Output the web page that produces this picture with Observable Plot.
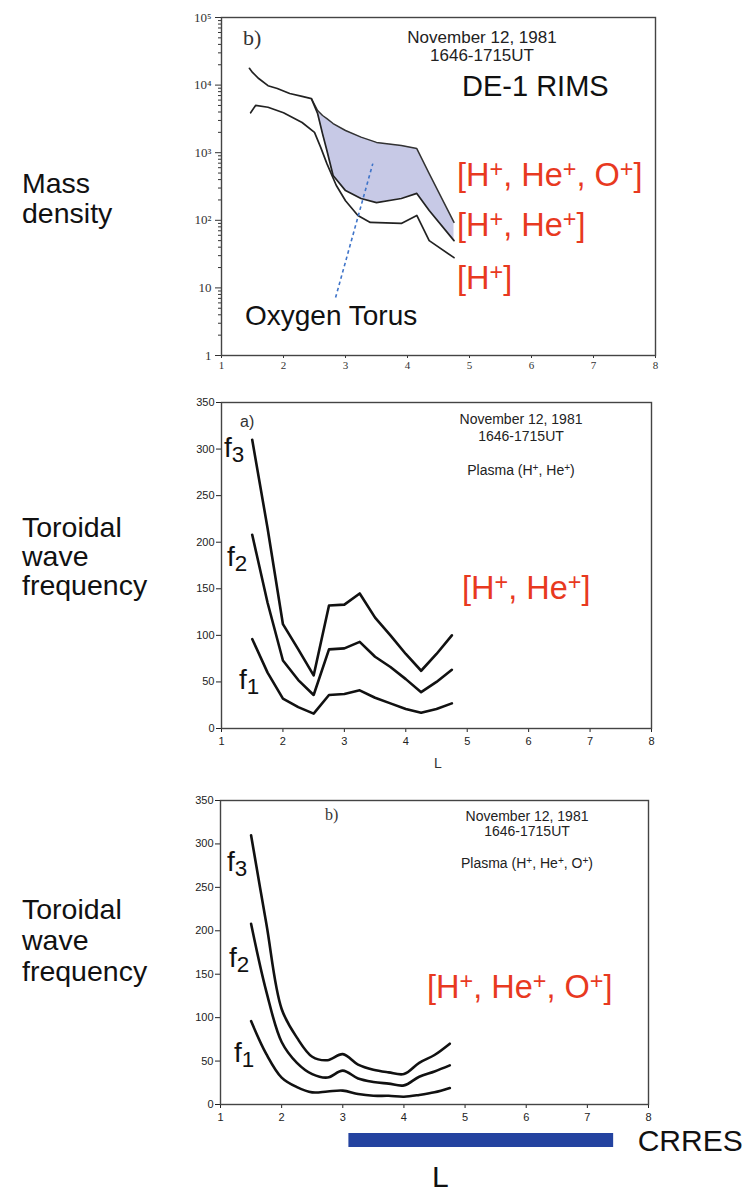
<!DOCTYPE html>
<html>
<head>
<meta charset="utf-8">
<script src="https://cdn.jsdelivr.net/npm/d3@7"></script>
<script src="https://cdn.jsdelivr.net/npm/@observablehq/plot@0.6"></script>
<style>
  html, body { margin: 0; background: #fff; }
  #fig { position: relative; width: 747px; height: 1194px; overflow: hidden;
         font-family: "Liberation Sans", Arial, Helvetica, sans-serif; color: #111; }
  #fig svg { position: absolute; left: 0; overflow: visible; background: transparent; }
  .t { position: absolute; white-space: nowrap; line-height: 1; }
  .red { color: #e8391f; }
  .t sup { font-size: 0.72em; vertical-align: 0; position: relative; top: -0.42em; line-height: 0; }
  .t sub { font-size: 0.8em; vertical-align: 0; position: relative; top: 0.2em; line-height: 0; }
  .hdr { transform: translateX(-50%); color: #222; }
  .side { position: absolute; left: 22px; font-size: 28.5px; white-space: nowrap; }
</style>
</head>
<body>
<div id="fig"></div>
<script>
// ---- DE-1 RIMS mass density (amu cm^-3) along L, 12 Nov 1981, 1646-1715 UT ----
const rimsL_H   = [1.47, 1.55, 1.75, 2.0, 2.3, 2.5, 2.6, 2.7, 2.85, 3.0, 3.2, 3.4, 3.9, 4.15, 4.35, 4.75];
const rimsH     = [3900, 5000, 4700, 3900, 2800, 2000, 1200, 690, 330, 195, 118, 93, 90, 118, 50, 28];
const rimsL_HHe = [1.45, 1.5, 1.6, 1.75, 1.9, 2.1, 2.3, 2.45, 2.55, 2.63, 2.7, 2.8, 3.0, 3.25, 3.5, 3.9, 4.15, 4.35, 4.75];
const rimsHHe   = [17700, 15400, 12500, 9800, 8900, 7500, 6800, 6300, 3800, 1900, 1080, 460, 275, 210, 183, 210, 250, 140, 50];
// with O+ added (oxygen torus), on the same L grid beyond L = 2.45
const rimsL_HHeO = [2.45, 2.55, 2.63, 2.7, 2.8, 3.0, 3.25, 3.5, 3.9, 4.15, 4.35, 4.75];
const rimsHHeO   = [6300, 4200, 3550, 3200, 2700, 2130, 1700, 1420, 1280, 1150, 490, 93];
// dashed pointer from the "Oxygen Torus" caption into the shaded band
const torusPointerL = [2.84, 3.44];
const torusPointerDensity = [7.2, 690];

const densityTicks = [1, 10, 100, 1000, 10000, 100000];
const densityTickLabels = ["1", "10", "10²", "10³", "10⁴", "10⁵"];
const lTicks = [1, 2, 3, 4, 5, 6, 7, 8];
const freqTicks = [0, 50, 100, 150, 200, 250, 300, 350];

// ---- Toroidal eigenfrequencies (mHz) f1..f3 along L ----
const freqL = [1.5, 1.75, 2.0, 2.25, 2.5, 2.75, 3.0, 3.25, 3.5, 3.75, 4.0, 4.25, 4.5, 4.75];
// plasma (H+, He+)
const hHe_f1 = [96, 60, 32, 23, 16, 36, 37, 41, 33, 27, 21, 17, 21, 27];
const hHe_f2 = [208, 135, 73, 52, 36, 85, 86, 93, 77, 66, 53, 39, 50, 63];
const hHe_f3 = [310, 215, 112, 85, 57, 132, 133, 145, 119, 100, 80, 62, 80, 100];
// plasma (H+, He+, O+)
const hHeO_f1 = [96, 58, 31, 20, 14, 15, 16, 12, 10, 10, 9, 11, 14, 19];
const hHeO_f2 = [208, 130, 72, 48, 35, 31, 39, 30, 26, 24, 22, 32, 38, 45];
const hHeO_f3 = [310, 208, 110, 77, 55, 51, 58, 46, 40, 37, 35, 48, 57, 70];

// CRRES L coverage
const crresL = [3.1, 7.43];

// ---------------------------------------------------------------
const fig = document.getElementById("fig");
const pts = (xs, ys) => xs.map((L, i) => ({L, v: ys[i]}));
const densityMinor = d3.range(0, 5).flatMap(k => d3.range(2, 10).map(m => m * 10 ** k));

function place(svg, top) {
  svg.style.top = top + "px";
  fig.appendChild(svg);
}

// Mass density panel (log scale)
const shade = rimsL_HHeO.map((L, i) => ({L, lo: rimsHHe[rimsL_HHe.indexOf(L)], hi: rimsHHeO[i]}));
place(Plot.plot({
  width: 747, height: 380,
  marginLeft: 221, marginRight: 92, marginTop: 17, marginBottom: 25,
  style: {fontFamily: "'Liberation Serif', serif", fontSize: "11px", color: "#333", background: "transparent", overflow: "visible"},
  x: {domain: [1, 8]},
  y: {type: "log", domain: [1, 1e5]},
  marks: [
    Plot.areaY(shade, {x: "L", y1: "lo", y2: "hi", fill: "#c7c9e6"}),
    Plot.axisY({ticks: densityMinor, tickSize: 3, tickFormat: () => "", label: null}),
    Plot.axisY({ticks: densityTicks, tickSize: 6, tickPadding: 4, fontSize: 13,
      tickFormat: d => densityTickLabels[densityTicks.indexOf(d)], label: null}),
    Plot.axisX({ticks: lTicks, tickSize: 3, tickPadding: 3, tickFormat: d3.format("d"), label: null}),
    Plot.frame({stroke: "#444", strokeWidth: 1.4}),
    Plot.line(pts(rimsL_HHeO, rimsHHeO), {x: "L", y: "v", stroke: "#333", strokeWidth: 1.5}),
    Plot.line(pts(rimsL_HHe, rimsHHe), {x: "L", y: "v", stroke: "#222", strokeWidth: 1.7}),
    Plot.line(pts(rimsL_H, rimsH), {x: "L", y: "v", stroke: "#222", strokeWidth: 1.7}),
    Plot.link([{x1: torusPointerL[0], y1: torusPointerDensity[0], x2: torusPointerL[1], y2: torusPointerDensity[1]}],
      {x1: "x1", y1: "y1", x2: "x2", y2: "y2", stroke: "#3f74c9", strokeWidth: 1.6, strokeDasharray: "3.5,3"})
  ]
}), 0);

// Toroidal frequency panels
function freqPanel(series, o) {
  return Plot.plot({
    width: 747, height: o.height,
    marginLeft: o.ml, marginRight: o.mr, marginTop: o.mt, marginBottom: o.mb,
    style: {fontFamily: "'Liberation Sans', Arial, sans-serif", fontSize: "11px", color: "#222", background: "transparent", overflow: "visible"},
    x: {domain: [1, 8]},
    y: {domain: [0, 350]},
    marks: [
      Plot.axisY({ticks: freqTicks, tickSize: 5, tickPadding: 2, label: null}),
      Plot.axisX({ticks: lTicks, tickSize: 4, tickPadding: 5, tickFormat: d3.format("d"), label: null}),
      Plot.frame({stroke: "#444", strokeWidth: 1.4}),
      ...series.map(s => Plot.line(pts(freqL, s), {x: "L", y: "v", stroke: "#111", strokeWidth: 2.6, curve: o.curve}))
    ]
  });
}
place(freqPanel([hHe_f1, hHe_f2, hHe_f3], {height: 400, ml: 221, mr: 96, mt: 22, mb: 52, curve: "linear"}), 380);
place(freqPanel([hHeO_f1, hHeO_f2, hHeO_f3], {height: 360, ml: 220, mr: 99, mt: 20, mb: 36, curve: "catmull-rom"}), 780);

// CRRES coverage bar on the same L scale
place(Plot.plot({
  width: 747, height: 14,
  marginLeft: 220, marginRight: 99, marginTop: 0, marginBottom: 0,
  style: {fontFamily: "'Liberation Sans', Arial, sans-serif", background: "transparent", overflow: "visible"},
  x: {domain: [1, 8], axis: null},
  marks: [
    Plot.barX([{a: crresL[0], b: crresL[1]}], {x1: "a", x2: "b", fill: "#2443a0"}),
    Plot.text([{b: crresL[1]}], {x: "b", text: () => "CRRES", dx: 24, dy: 1, textAnchor: "start", fontSize: 30, fill: "#111"})
  ]
}), 1133);

// ---- text annotations ----
function label(html, left, top, size, cls = "", extra = "") {
  const d = document.createElement("div");
  d.className = "t " + cls;
  d.innerHTML = html;
  d.style.cssText += `left:${left}px;top:${top}px;font-size:${size}px;${extra}`;
  fig.appendChild(d);
}
// baseline-based placement for line-height:1 text
const at = (baseline, size) => baseline - 0.8465 * size;

// side titles
function side(lines, top, lh) {
  const d = document.createElement("div");
  d.className = "side";
  d.style.top = top + "px";
  d.style.lineHeight = lh + "px";
  d.innerHTML = lines.join("<br>");
  fig.appendChild(d);
}
side(["Mass", "density"], 168, 30);
side(["Toroidal", "wave", "frequency"], 513, 29);
side(["Toroidal", "wave", "frequency"], 894, 31);

// panel headers
label("b)", 243, 27, 22, "", "font-family:'Liberation Serif',serif;color:#333");
label("November 12, 1981", 482, 29, 17, "hdr");
label("1646-1715UT", 482, 47, 17, "hdr");
label("DE-1 RIMS", 462, at(97, 29), 29);

label("a)", 240, 414, 16, "", "color:#333");
label("November 12, 1981", 521, 412, 14, "hdr");
label("1646-1715UT", 521, 429, 14, "hdr");
label("Plasma (H<sup>+</sup>, He<sup>+</sup>)", 521, 463, 14, "hdr");

label("b)", 325, 807, 16, "", "font-family:'Liberation Serif',serif;color:#333");
label("November 12, 1981", 527, 809, 14, "hdr");
label("1646-1715UT", 527, 824, 14, "hdr");
label("Plasma (H<sup>+</sup>, He<sup>+</sup>, O<sup>+</sup>)", 527, 856, 14, "hdr");

// ion composition labels
label("[H<sup>+</sup>, He<sup>+</sup>, O<sup>+</sup>]", 457, at(187, 32.5), 32.5, "red");
label("[H<sup>+</sup>, He<sup>+</sup>]", 457, at(237, 32.5), 32.5, "red");
label("[H<sup>+</sup>]", 457, at(290, 32.5), 32.5, "red");
label("[H<sup>+</sup>, He<sup>+</sup>]", 462, at(600, 32.5), 32.5, "red");
label("[H<sup>+</sup>, He<sup>+</sup>, O<sup>+</sup>]", 427, at(999, 32.5), 32.5, "red");

label("Oxygen Torus", 245, at(326, 28), 28);

// harmonic labels
const fLab = (n, left, base) => label(`f<sub>${n}</sub>`, left, at(base, 28), 28);
fLab(3, 224, 458); fLab(2, 227, 567); fLab(1, 239, 690);
fLab(3, 227, 872); fLab(2, 229, 968); fLab(1, 234, 1063);

// L axis titles
label("L", 434, 756, 14, "", "color:#333");
label("L", 432, at(1187, 30), 30);
</script>
</body>
</html>
